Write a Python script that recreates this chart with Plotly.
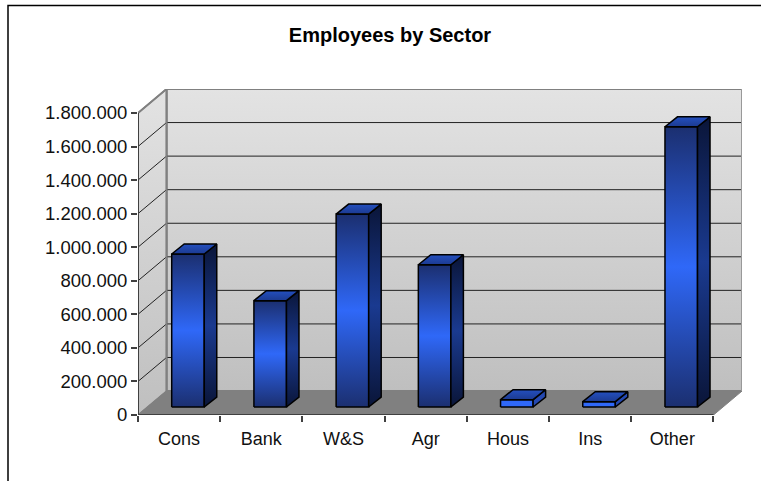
import plotly.graph_objects as go

categories = ["Cons", "Bank", "W&S", "Agr", "Hous", "Ins", "Other"]
employees = [912000, 634000, 1150000, 848000, 44000, 32000, 1670000]
tick_values = [0, 200000, 400000, 600000, 800000, 1000000, 1200000, 1400000, 1600000, 1800000]
tick_labels = ["0", "200.000", "400.000", "600.000", "800.000", "1.000.000", "1.200.000",
               "1.400.000", "1.600.000", "1.800.000"]

# depth of the fake 3d box and of the bars, in axis units
box_dx, box_dy = 0.347, 142700
bar_dx, bar_dy = 0.152, 59500
bar_left, bar_width, bar_base = 0.41, 0.396, 47570
y_max = 1800000
x_end = len(categories)

FONT = "Liberation Sans"
front_scale = [[0, "#1b2f70"], [0.5, "#2f68f8"], [1, "#1b2f70"]]
side_scale = [[0, "#0a1538"], [0.5, "#1a3a90"], [1, "#0a1538"]]
top_scale = [[0, "#1c3a90"], [1, "#2450c0"]]
wall_scale = [[0, "#bfbfbf"], [1, "#e3e3e3"]]
# very short bars only show the bright middle of the gradient
short_front = [[0, "#2f68f8"], [1, "#2f68f8"]]
short_side = [[0, "#2448b0"], [1, "#2448b0"]]

# plot area in pixels, used for the outer frame line
left, right, top, bottom = 138, 19, 89, 66.3
plot_w = 761 - left - right
plot_h = 481 - top - bottom

fig = go.Figure()


def face(xs, ys, scale=None, color=None, line="black", width=1.5):
    kw = {}
    if scale:
        kw["fillgradient"] = dict(type="vertical", colorscale=scale)
    else:
        kw["fillcolor"] = color
    fig.add_trace(go.Scatter(x=xs, y=ys, mode="lines", fill="toself", line=dict(color=line, width=width),
                             hoverinfo="skip", showlegend=False, **kw))


def seg(xs, ys, color, width):
    fig.add_trace(go.Scatter(x=xs, y=ys, mode="lines", line=dict(color=color, width=width),
                             hoverinfo="skip", showlegend=False))


# Walls and floor
face([box_dx, x_end + box_dx, x_end + box_dx, box_dx, box_dx],
     [box_dy, box_dy, y_max + box_dy, y_max + box_dy, box_dy], scale=wall_scale, line="#808080", width=2)
face([0, box_dx, box_dx, 0, 0], [0, box_dy, y_max + box_dy, y_max, 0], scale=wall_scale, line="#808080", width=1.5)
face([0, x_end, x_end + box_dx, box_dx, 0], [0, 0, box_dy, box_dy, 0], color="#808080", line="#808080", width=1)

# Gridlines on both walls
for v in tick_values[1:-1]:
    seg([0, box_dx, x_end + box_dx], [v, v + box_dy, v + box_dy], "#222222", 1)
seg([0, box_dx, x_end + box_dx], [y_max, y_max + box_dy, y_max + box_dy], "#808080", 2)
seg([x_end + box_dx, x_end + box_dx], [box_dy, y_max + box_dy], "#999999", 2)
seg([box_dx, box_dx], [box_dy, y_max + box_dy], "#808080", 2)

# Bars: front, side and top faces
for i, v in enumerate(employees):
    x0 = i + bar_left
    x1 = x0 + bar_width
    y0 = bar_base
    y1 = bar_base + v
    short = v < 100000
    face([x0, x1, x1, x0, x0], [y0, y0, y1, y1, y0], scale=short_front if short else front_scale)
    face([x1, x1 + bar_dx, x1 + bar_dx, x1, x1], [y0, y0 + bar_dy, y1 + bar_dy, y1, y0],
         scale=short_side if short else side_scale)
    face([x0, x1, x1 + bar_dx, x0 + bar_dx, x0], [y1, y1, y1 + bar_dy, y1 + bar_dy, y1], scale=top_scale)

# Axis lines
seg([0, 0], [0, y_max], "#404040", 2)
seg([0, x_end], [0, 0], "#404040", 2)

# Frame only on the left and top, it runs off the page on the other sides
fx0 = (8 - left) / plot_w
fx1 = (775 - left) / plot_w
fy0 = (481 - bottom - 495) / plot_h
fy1 = (481 - bottom - 5.5) / plot_h

fig.update_layout(
    width=761, height=481,
    margin=dict(l=left, r=right, t=top, b=bottom, autoexpand=False),
    paper_bgcolor="white", plot_bgcolor="white",
    showlegend=False,
    font=dict(family=FONT, color="black"),
    title=dict(text="<b>Employees by Sector</b>", x=390 / 761, xanchor="center", y=1 - 35 / 481, yanchor="middle",
               font=dict(family=FONT, size=20, color="black")),
    xaxis=dict(range=[0, x_end + box_dx], showgrid=False, zeroline=False,
               tickmode="array", tickvals=[i + 0.5 for i in range(x_end)], ticktext=categories,
               ticks="", tickfont=dict(size=18, color="#111111"), ticklabelstandoff=11,
               minor=dict(tickmode="array", tickvals=list(range(x_end + 1)), ticks="outside", ticklen=6,
                          tickcolor="#404040", tickwidth=1.5, showgrid=False)),
    yaxis=dict(range=[0, y_max + box_dy], showgrid=False, zeroline=False,
               tickmode="array", tickvals=tick_values, ticktext=tick_labels,
               ticks="outside", ticklen=6, tickcolor="#404040", tickwidth=1.5,
               tickfont=dict(size=18.5, color="#111111")),
    shapes=[dict(type="path", xref="paper", yref="paper",
                 path=f"M {fx0} {fy0} L {fx0} {fy1} L {fx1} {fy1}",
                 line=dict(color="black", width=1.5))],
)

fig.write_html("out.html", config={"displayModeBar": False}, post_script="document.body.style.margin='0';")
